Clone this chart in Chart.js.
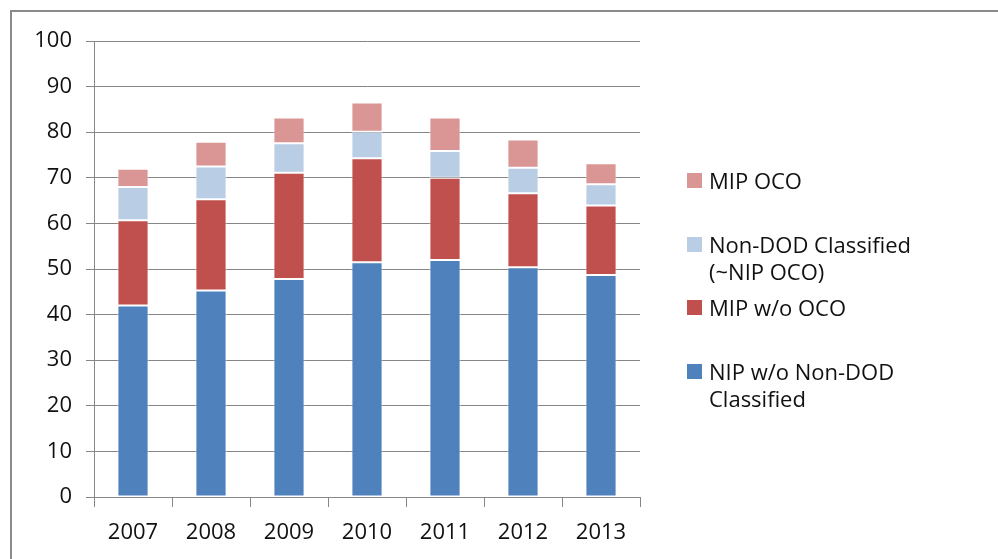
<!DOCTYPE html>
<html lang="en">
    <head>
        <meta charset="UTF-8">
        <title>Stacked budget chart</title>
        <script src="https://cdn.jsdelivr.net/npm/chart.js"></script>
        <style>
            html, body { margin: 0; padding: 0; background: #fff; }
            body { width: 998px; height: 559px; position: relative; overflow: hidden; font-family: "Open Sans", sans-serif; }
            .frame { position: absolute; left: 10px; top: 10px; width: 1000px; height: 600px; border-top: 2px solid #8a8a8a; border-left: 2px solid #8a8a8a; }
            .chart-box { position: absolute; left: 0; top: 0; width: 998px; height: 559px; }
            .legend { position: absolute; left: 687px; top: 167px; margin: 0; padding: 0; list-style: none; }
            .legend li { position: relative; height: 63.7px; padding-left: 22px; width: 225px; font-size: 22px; line-height: 27px; color: #111; }
            .legend li span { position: absolute; left: 0; top: 6px; width: 15px; height: 15px; }
        </style>
    </head>
    <body>
        <div class="frame"></div>
        <div class="chart-box">
            <canvas id="chart"></canvas>
        </div>
        <ul class="legend" id="legend"></ul>

        <script>
            const years = ['2007', '2008', '2009', '2010', '2011', '2012', '2013'];
            const nipWoNonDod = [42.0, 45.3, 47.8, 51.5, 52.0, 50.4, 48.7];
            const mipWoOco = [18.7, 20.0, 23.3, 22.8, 18.0, 16.2, 15.2];
            const nonDodClassified = [7.3, 7.2, 6.5, 5.8, 5.9, 5.6, 4.7];
            const mipOco = [4.0, 5.4, 5.6, 6.4, 7.3, 6.2, 4.6];
            const yTicks = [0, 10, 20, 30, 40, 50, 60, 70, 80, 90, 100];

            const gridGray = '#868686';
            const textColor = '#111';
            const font = { family: '"Open Sans", sans-serif', size: 22 };

            function series(label, data, color) {
                return {
                    label: label,
                    data: data,
                    backgroundColor: color,
                    borderColor: 'rgba(255,255,255,0.55)',
                    borderWidth: 1,
                    borderSkipped: false,
                    barPercentage: 0.4,
                    categoryPercentage: 1
                };
            }

            const chart = new Chart(document.getElementById('chart'), {
                type: 'bar',
                data: {
                    labels: years,
                    datasets: [
                        series('NIP w/o Non-DOD Classified', nipWoNonDod, '#4f81bd'),
                        series('MIP w/o OCO', mipWoOco, '#c0504d'),
                        series('Non-DOD Classified (~NIP OCO)', nonDodClassified, '#b9cde5'),
                        series('MIP OCO', mipOco, '#d99694')
                    ]
                },
                options: {
                    responsive: true,
                    maintainAspectRatio: false,
                    animation: false,
                    layout: { padding: { top: 41, right: 358, left: 0, bottom: 0 } },
                    plugins: {
                        legend: { display: false },
                        tooltip: { enabled: false }
                    },
                    scales: {
                        x: {
                            stacked: true,
                            grid: { offset: true, drawOnChartArea: false, drawTicks: true, tickLength: 10, color: gridGray },
                            border: { color: gridGray },
                            ticks: { color: textColor, font: font, padding: 13, maxRotation: 0 },
                            afterFit: s => { s.height = 62; }
                        },
                        y: {
                            stacked: true,
                            min: 0,
                            max: 100,
                            afterBuildTicks: s => { s.ticks = yTicks.map(v => ({ value: v })); },
                            grid: { color: gridGray, tickLength: 8 },
                            border: { color: gridGray },
                            ticks: { color: textColor, font: font, padding: 14 },
                            afterFit: s => { s.width = 94; }
                        }
                    }
                }
            });

            // legend, top series first like Excel does
            const legend = document.getElementById('legend');
            chart.data.datasets.slice().reverse().forEach(ds => {
                const li = document.createElement('li');
                li.innerHTML = `<span style="background:${ds.backgroundColor}"></span>${ds.label}`;
                legend.appendChild(li);
            });
        </script>
    </body>
</html>
